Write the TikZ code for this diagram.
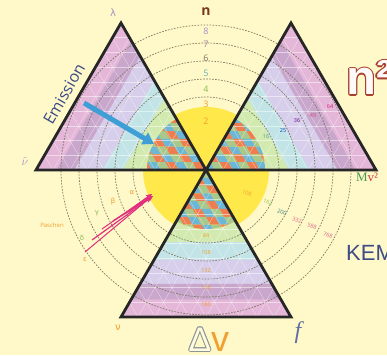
\documentclass[tikz,border=0pt]{standalone}
\usepackage{fontspec}
\setsansfont{Open Sans}
\newfontfamily\dejavu{DejaVu Sans}
\newfontfamily\libsans{Liberation Sans}
\newfontfamily\libserif{Liberation Serif}
\usetikzlibrary{arrows.meta,calc}
\definecolor{bg}{HTML}{FFF8C8}
\definecolor{sunny}{HTML}{FFE84A}
\definecolor{pinkb}{HTML}{E4B6D8}
\definecolor{purg}{HTML}{C9A6CC}
\definecolor{lav}{HTML}{D6CEEA}
\definecolor{cyanb}{HTML}{C2E4E6}
\definecolor{greenb}{HTML}{D2EAB0}
\definecolor{chkO}{HTML}{EE7E50}
\definecolor{chkB}{HTML}{6CB6D6}
\definecolor{chkG}{HTML}{A9C98C}
\definecolor{arcgray}{HTML}{7E7A64}
\definecolor{nred}{HTML}{A8402E}
\definecolor{nbrown}{HTML}{7A3A1A}
\definecolor{lavtxt}{HTML}{A890C8}
\definecolor{orangetxt}{HTML}{F0A030}
\definecolor{greentxt}{HTML}{8CBE58}
\definecolor{embl}{HTML}{3A4A8A}
\definecolor{arrbl}{HTML}{3E9FD6}
\definecolor{mag}{HTML}{E2307F}
\definecolor{kemb}{HTML}{3D4C86}
\definecolor{fblue}{HTML}{6070A0}
\definecolor{mgreen}{HTML}{4A9A50}
\definecolor{vred}{HTML}{D04040}
\definecolor{dgray}{HTML}{8C9494}
\tikzset{
  tri/.style={line width=2.8pt, draw=black!85, line join=miter},
  ring/.style={dash pattern=on 1.6pt off 1.4pt, line width=0.7pt, draw=arcgray},
  gridline/.style={draw=white, opacity=.5, line width=.4pt},
  lbl/.style={inner sep=0pt, font=\sffamily\fontsize{9}{9}\selectfont},
  tinylbl/.style={inner sep=0pt, font=\sffamily\fontsize{5.5}{5.5}\selectfont},
  greek/.style={inner sep=0pt, font=\dejavu\fontsize{7}{7}\selectfont},
  bluearrow/.style={arrbl, line width=5pt, -{Triangle[length=11pt,width=13pt]}},
  magarrow/.style={mag, -{Stealth[length=6pt,width=5pt]}},
}
\begin{document}
\begin{tikzpicture}[x=1pt,y=-1pt]
\useasboundingbox (0,0) rectangle (387,355);
\fill[bg] (0,0) rectangle (387,355);
\coordinate (C) at (206,170);
\coordinate (A1) at (121,23);  \coordinate (B1) at (36,170);
\coordinate (A2) at (291,23);  \coordinate (B2) at (376,170);
\coordinate (A3) at (121,317); \coordinate (B3) at (291,317);
% yellow disc
\fill[sunny] (C) circle (63);
% triangle fills: bands parallel to the outer edge
\foreach \P/\Q in {A1/B1, A2/B2, A3/B3}{
  \begin{scope}
    \clip (C) -- (\P) -- (\Q) -- cycle;
    \fill[greenb] (C) -- (\P) -- (\Q) -- cycle;
    \foreach \t/\cl in {0.51/cyanb, 0.39/lav, 0.225/purg, 0.12/pinkb}{
      \fill[\cl] (\P) -- (\Q) -- ($(\Q)!\t!(C)$) -- ($(\P)!\t!(C)$) -- cycle;
    }
    \begin{scope}
      \clip (C) circle (59);
      \fill[sunny] (C) circle (59);
      \foreach \i in {-9,...,9}{
        \foreach \j in {-9,...,9}{
          \pgfmathtruncatemacro\k{mod(\i+2*\j+60,3)}
          \ifcase\k \def\cc{chkO}\or \def\cc{chkB}\or \def\cc{chkG}\fi
          \fill[\cc] ($(C)+(\i*9+\j*4.5,\j*7.794)$) -- ++(9,0) -- ++(4.5,7.794) -- ++(-9,0) -- cycle;
        }}
    \end{scope}
    \foreach \k [evaluate=\k as \f using \k/10] in {1,...,9}{
      \draw[gridline] ($(C)!\f!(\P)$) -- ($(C)!\f!(\Q)$);
      \draw[gridline] ($(\P)!\f!(C)$) -- ($(\P)!\f!(\Q)$);
      \draw[gridline] ($(\Q)!\f!(C)$) -- ($(\Q)!\f!(\P)$);
    }
  \end{scope}
}
% dashed arcs
\foreach \r in {73,91,109,127,145}{ \draw[ring] (C) circle (\r); }
% triangle borders
\foreach \P/\Q in {A1/B1, A2/B2, A3/B3}{ \draw[tri] (C) -- (\P) -- (\Q) -- cycle; }
% top gap labels
\node[inner sep=0pt, font=\sffamily\bfseries\fontsize{14}{14}\selectfont, text=nbrown] (ln) at (206,12) {n};
\node[lbl, text=lavtxt] (l8) at (206,31) {8};
\node[lbl, text=purg!80!black] (l7) at (206,44) {7};
\node[lbl, text=arcgray] (l6) at (206,58) {6};
\node[lbl, text=teal!60] (l5) at (206,73) {5};
\node[lbl, text=greentxt] (l4) at (206,89) {4};
\node[lbl, text=orangetxt] (l3) at (206,104) {3};
\node[lbl, text=orangetxt] (l2) at (206,121) {2};
% n^2 values in top right triangle
\node[tinylbl, text=teal!70] (s16) at (266,137) {16};
\node[tinylbl, text=blue!50!teal] (s25) at (283,131) {25};
\node[tinylbl, text=blue!40!purple] (s36) at (297,121) {36};
\node[tinylbl, text=purple!70] (s49) at (313,116) {49};
\node[tinylbl, text=magenta!60!purple] (s64) at (330,107) {64};
% lower right values
\node[tinylbl, text=orangetxt, rotate=-20] (r108) at (247,193) {108};
\node[tinylbl, text=greentxt, rotate=-20] (r162) at (268,202) {162};
\node[tinylbl, text=teal!60!gray, rotate=-20] (r200) at (282,212) {200};
\node[tinylbl, text=purple!60, rotate=-20] (r332) at (297,220) {332};
\node[tinylbl, text=purple!60, rotate=-20] (r588) at (312,226) {588};
\node[tinylbl, text=purple!60, rotate=-20] (r768) at (328,235) {768};
% bottom triangle values
\node[tinylbl, text=orangetxt] (b84) at (206,236) {84};
\node[tinylbl, text=orangetxt] (b108) at (206,253) {108};
\node[tinylbl, text=orangetxt] (b132) at (206,271) {132};
\node[tinylbl, text=orangetxt] (b156) at (206,288) {156};
\node[tinylbl, text=orangetxt] (b180) at (206,305) {180};
% lower-left greek labels
\node[greek, text=orangetxt] (ga) at (132,193) {α};
\node[greek, text=orangetxt] (gb) at (113,202) {β};
\node[greek, text=greentxt] (gc) at (97,213) {γ};
\node[greek, text=greentxt] (gd) at (82,238) {δ};
\node[greek, text=orangetxt] (ge) at (85,260) {ε};
\node[inner sep=0pt, font=\sffamily\fontsize{6}{6}\selectfont, text=orangetxt] (pasch) at (52,225) {Paschen};
% arrows
\coordinate (bS) at (84,103); \coordinate (bT) at (154,144);
\draw[bluearrow] (bS) -- (bT);
\coordinate (mT1) at (152,194); \coordinate (mT2) at (153,196); \coordinate (mT3) at (151,197);
\coordinate (m1) at (85,252); \coordinate (m2) at (92,240); \coordinate (m3) at (102,229);
\coordinate (m4) at (113,221); \coordinate (m5) at (128,212);
\draw[magarrow, line width=1pt] (m1) -- (mT3);
\draw[magarrow, line width=1.2pt] (m2) -- (mT2);
\draw[magarrow, line width=1pt] (m3) -- (mT1);
\draw[magarrow, line width=1.4pt] (m4) -- (mT2);
\draw[magarrow, line width=1.6pt] (m5) -- (mT1);
% vertex labels
\node[inner sep=0pt, text=lavtxt, font=\dejavu\fontsize{10}{10}\selectfont] (lam) at (113,13) {λ};
\node[inner sep=0pt, text=lavtxt, font=\fontsize{12}{12}\selectfont] (nut) at (25,162) {$\tilde{\nu}$};
\node[inner sep=0pt, text=orangetxt, font=\dejavu\fontsize{10}{10}\selectfont] (nub) at (118,328) {ν};
\node[inner sep=0pt, text=fblue, font=\libserif\itshape\fontsize{24}{24}\selectfont] (fl) at (298,333) {f};
\node[inner sep=0pt, font=\libserif\fontsize{13}{13}\selectfont] (mv) at (367,177) {\textcolor{mgreen}{M}\textcolor{vred}{v²}};
\node[inner sep=0pt, rotate=60, text=embl, font=\sffamily\fontsize{16}{16}\selectfont] (emi) at (64,94) {Emission};
% n^2 outlined
\coordinate (npos) at (346,95);
\foreach \dx/\dy in {-1.2/0,1.2/0,0/-1.2,0/1.2,-.85/-.85,.85/.85,-.85/.85,.85/-.85}{
  \node[inner sep=0pt, anchor=base west, text=nred, font=\libsans\bfseries\fontsize{49}{49}\selectfont] at ($(npos)+(\dx,\dy)$) {n²};
}
\node[inner sep=0pt, anchor=base west, text=white!92!pink, font=\libsans\bfseries\fontsize{49}{49}\selectfont] (nsq) at (npos) {n²};
% KEM
\node[inner sep=0pt, anchor=west, text=kemb, font=\libsans\fontsize{22}{22}\selectfont] (kem) at (346,253) {KEM};
% Delta v
\coordinate (dpos) at (200,351);
\foreach \dx/\dy in {-1/0,1/0,0/-1,0/1,-.7/-.7,.7/.7,-.7/.7,.7/-.7}{
  \node[inner sep=0pt, anchor=base, text=dgray, font=\libsans\fontsize{34}{34}\selectfont] at ($(dpos)+(\dx,\dy)$) {Δ};
}
\node[inner sep=0pt, anchor=base, text=bg!60!white, font=\libsans\fontsize{34}{34}\selectfont] (delta) at (dpos) {Δ};
\node[inner sep=0pt, anchor=base west, text=orangetxt, font=\libsans\fontsize{36}{36}\selectfont] (vv) at (211,351) {v};
\end{tikzpicture}
\end{document}
